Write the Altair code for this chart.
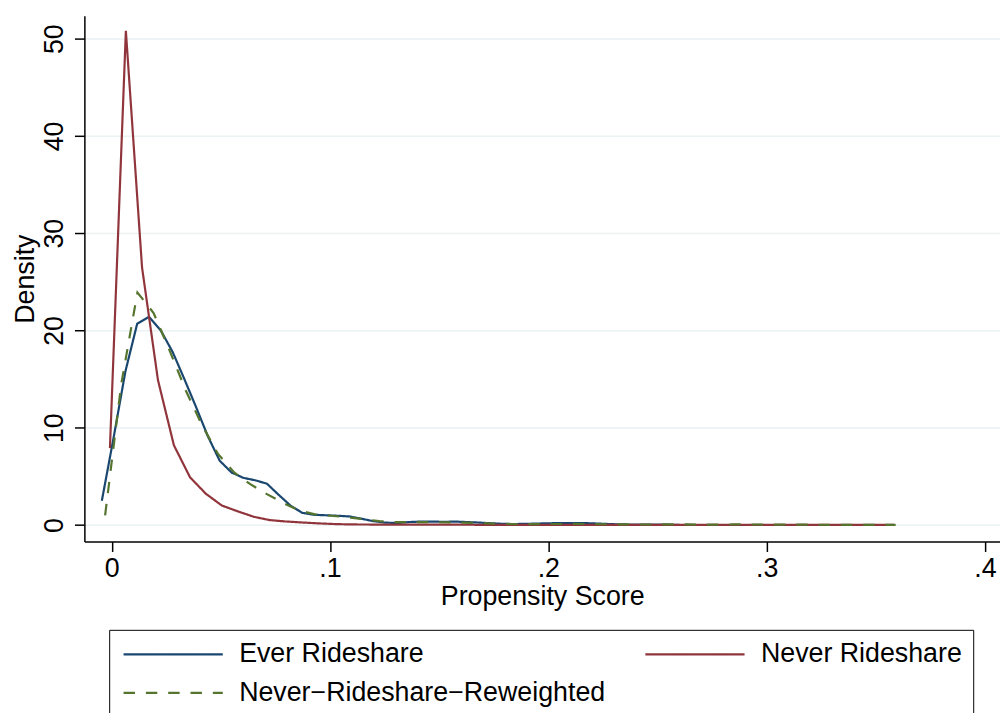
import altair as alt
import pandas as pd

FONT = "Liberation Sans"

series_names = ["Ever Rideshare", "Never Rideshare", "Never\u2212Rideshare\u2212Reweighted"]
series_colors = ["#1a476f", "#90353b", "#55752f"]

# Ever Rideshare (kernel density evaluation points)
x_ever = [-0.0045, 0.0009, 0.0063, 0.0117, 0.0171, 0.0225, 0.0279, 0.0333, 0.0387, 0.0441,
          0.0495, 0.0549, 0.0603, 0.0657, 0.0711, 0.0765, 0.0819, 0.0873, 0.0927, 0.0981,
          0.1035, 0.1089, 0.1143, 0.1197, 0.1251, 0.1305, 0.1359, 0.1413, 0.1467, 0.1521,
          0.1575, 0.1629, 0.1683, 0.1737, 0.1791, 0.1845, 0.1899, 0.1953, 0.2007, 0.2061,
          0.2115, 0.2169, 0.2223, 0.2277, 0.2331, 0.2385, 0.2439, 0.2493, 0.2547, 0.2601]
dens_ever = [2.5, 9.0, 15.8, 20.7, 21.4, 20.0, 17.8, 15.0, 12.1, 9.1,
             6.6, 5.4, 4.85, 4.6, 4.25, 3.1, 2.0, 1.25, 1.05, 1.0,
             0.95, 0.88, 0.65, 0.4, 0.25, 0.2, 0.3, 0.35, 0.35, 0.33,
             0.35, 0.3, 0.25, 0.18, 0.12, 0.1, 0.12, 0.15, 0.18, 0.2,
             0.2, 0.2, 0.15, 0.1, 0.06, 0.05, 0.04, 0.03, 0.03, 0.02]

# Never Rideshare
x_never = [-0.0008, 0.0065, 0.0139, 0.0212, 0.0285, 0.0359, 0.0432, 0.0505, 0.0578, 0.0652,
           0.0725, 0.0798, 0.0872, 0.0945, 0.1018, 0.1092, 0.1165, 0.1238, 0.1311, 0.1385,
           0.1458, 0.1531, 0.1605, 0.1678, 0.1751, 0.1825, 0.1898, 0.1971, 0.2044, 0.2118,
           0.2191, 0.2264, 0.2338, 0.2411, 0.2484, 0.2557, 0.2631, 0.2704, 0.2777, 0.2851,
           0.2924, 0.2997, 0.3071, 0.3144, 0.3217, 0.3290, 0.3364, 0.3437, 0.3510, 0.3584]
dens_never = [7.9, 50.8, 26.5, 14.9, 8.2, 4.9, 3.2, 2.0, 1.4, 0.84,
              0.5, 0.36, 0.26, 0.17, 0.1, 0.06, 0.05, 0.04, 0.04, 0.03,
              0.03, 0.03, 0.03, 0.02, 0.02, 0.02, 0.02, 0.02, 0.02, 0.02,
              0.02, 0.01, 0.01, 0.01, 0.01, 0.01, 0.01, 0.01, 0.01, 0.01,
              0.01, 0.01, 0.01, 0.01, 0.01, 0.01, 0.01, 0.01, 0.01, 0.01]

# Never-Rideshare-Reweighted
x_rew = [-0.0030, 0.0044, 0.0118, 0.0192, 0.0266, 0.0340, 0.0413, 0.0487, 0.0561, 0.0635,
         0.0709, 0.0783, 0.0857, 0.0931, 0.1005, 0.1079, 0.1152, 0.1226, 0.1300, 0.1374,
         0.1448, 0.1522, 0.1596, 0.1670, 0.1744, 0.1818, 0.1891, 0.1965, 0.2039, 0.2113,
         0.2187, 0.2261, 0.2335, 0.2409, 0.2483, 0.2557, 0.2630, 0.2704, 0.2778, 0.2852,
         0.2926, 0.3000, 0.3074, 0.3148, 0.3222, 0.3296, 0.3369, 0.3443, 0.3517, 0.3591]
dens_rew = [1.0, 14.5, 23.9, 21.8, 17.9, 13.8, 10.3, 7.3, 5.4, 4.2,
            3.2, 2.3, 1.5, 1.1, 0.95, 0.8, 0.6, 0.4, 0.3, 0.3,
            0.3, 0.28, 0.25, 0.22, 0.15, 0.1, 0.08, 0.1, 0.1, 0.12,
            0.1, 0.08, 0.06, 0.05, 0.05, 0.07, 0.06, 0.04, 0.04, 0.06,
            0.05, 0.03, 0.03, 0.03, 0.03, 0.02, 0.02, 0.02, 0.02, 0.02]

x_ticks = [0, 0.1, 0.2, 0.3, 0.4]
y_ticks = [0, 10, 20, 30, 40, 50]

rows = []
for name, xs, ys in [(series_names[0], x_ever, dens_ever),
                     (series_names[1], x_never, dens_never),
                     (series_names[2], x_rew, dens_rew)]:
    for xv, yv in zip(xs, ys):
        rows.append({"series": name, "score": xv, "density": yv})
df = pd.DataFrame(rows)

legend = alt.Legend(
    orient="none", legendX=25, legendY=619, columns=2, direction="horizontal",
    symbolType="M-1,0H9", symbolSize=400, symbolStrokeWidth=2.2,
    labelFont=FONT, labelFontSize=27, labelColor="black", labelOffset=93, labelLimit=0,
    columnPadding=35, rowPadding=11, padding=11,
    strokeColor="black", fillColor="white", title=None,
)

chart = alt.Chart(df).mark_line(strokeWidth=2.2).encode(
    x=alt.X("score:Q",
            scale=alt.Scale(domain=[-0.0125, 0.4069], nice=False, zero=False),
            axis=alt.Axis(values=x_ticks, title="Propensity Score",
                          labelExpr="datum.value == 0 ? '0' : '.' + round(datum.value * 10)",
                          grid=False, tickSize=10, tickWidth=1.5, tickColor="black",
                          domainColor="black", domainWidth=1.5,
                          labelFont=FONT, labelFontSize=27, labelColor="black", labelPadding=4,
                          titleFont=FONT, titleFontSize=27, titleFontWeight="normal",
                          titleColor="black", titlePadding=2)),
    y=alt.Y("density:Q",
            scale=alt.Scale(domain=[-1.7, 52.35], nice=False, zero=False),
            axis=alt.Axis(values=y_ticks, title="Density", format="d",
                          grid=True, gridColor="#eaf2f3", gridWidth=1.5,
                          tickSize=10, tickWidth=1.5, tickColor="black",
                          domainColor="black", domainWidth=1.5,
                          labelAngle=270, labelAlign="center", labelBaseline="bottom",
                          labelFont=FONT, labelFontSize=27, labelColor="black", labelPadding=6,
                          titleFont=FONT, titleFontSize=27, titleFontWeight="normal",
                          titleColor="black", titlePadding=1)),
    color=alt.Color("series:N", scale=alt.Scale(domain=series_names, range=series_colors),
                    legend=legend),
    strokeDash=alt.StrokeDash("series:N",
                              scale=alt.Scale(domain=series_names,
                                              range=[[1, 0], [1, 0], [11.5, 11]]),
                              legend=legend),
).properties(
    width=923, height=530,
    autosize=alt.AutoSizeParams(type="none"),
    padding={"left": 77, "top": 5, "right": 0, "bottom": 170},
    background="white",
).configure_view(strokeWidth=0)

chart.save("out.html", embed_options={"renderer": "svg", "actions": False})
